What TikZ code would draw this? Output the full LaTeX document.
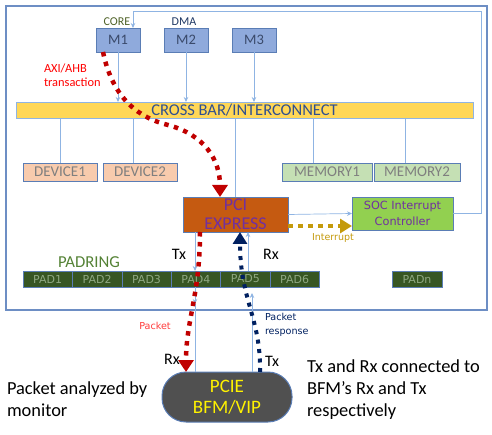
\documentclass[tikz,border=0pt]{standalone}
\usepackage{fontspec}
\setmainfont{Carlito}
\newfontfamily\dv{DejaVu Sans}
\usetikzlibrary{arrows.meta}
\definecolor{mfill}{HTML}{8FAADC}
\definecolor{mdraw}{HTML}{5A7DB5}
\definecolor{mtext}{HTML}{3A4A6B}
\definecolor{thinc}{HTML}{8FB4E3}
\definecolor{xfill}{HTML}{FFD757}
\definecolor{xtext}{HTML}{2F4F8F}
\definecolor{devfill}{HTML}{F8CBAD}
\definecolor{memfill}{HTML}{C5E0B4}
\definecolor{boxtext}{HTML}{7F7F7F}
\definecolor{pcifill}{HTML}{C55A11}
\definecolor{purp}{HTML}{7030A0}
\definecolor{socfill}{HTML}{92D050}
\definecolor{padfill}{HTML}{375623}
\definecolor{padtext}{HTML}{8FA882}
\definecolor{padring}{HTML}{548235}
\definecolor{redd}{HTML}{C00000}
\definecolor{redl}{HTML}{FF3B3B}
\definecolor{navy}{HTML}{002060}
\definecolor{goldc}{HTML}{C49A0C}
\definecolor{bfmfill}{HTML}{505050}
\definecolor{outerc}{HTML}{6D8EC4}
\definecolor{coretext}{HTML}{4F6228}
\definecolor{dmatext}{HTML}{1F3864}
\begin{document}
\begin{tikzpicture}[x=1pt,y=-1pt,
  every node/.style={inner sep=0pt, outer sep=0pt},
  mbox/.style={draw=mdraw, line width=0.8pt, fill=mfill, minimum width=44pt, minimum height=24pt, text=mtext, font=\fontsize{14.5}{14.5}\selectfont},
  devbox/.style={draw=mdraw, line width=0.8pt, fill=devfill, minimum height=18pt, text=boxtext, font=\fontsize{15}{15}\selectfont},
  membox/.style={draw=mdraw, line width=0.8pt, fill=memfill, minimum height=18pt, text=boxtext, font=\fontsize{15}{15}\selectfont},
  padbox/.style={draw=mdraw, line width=0.6pt, fill=padfill, minimum width=49.4pt, minimum height=16pt, text=padtext, font=\dv\fontsize{11}{11}\selectfont},
  thin/.style={draw=thinc, line width=0.7pt},
  thinarr/.style={thin, -{Stealth[length=5pt,width=4.5pt]}},
  reddot/.style={draw=redd, line width=4.5pt, dash pattern=on 4.5pt off 5.5pt, -{Triangle[length=12pt,width=15pt]}},
  bluedot/.style={draw=navy, line width=4pt, dash pattern=on 4pt off 5.5pt, -{Triangle[length=12pt,width=14pt]}},
  golddot/.style={draw=goldc, line width=4pt, dash pattern=on 5pt off 5pt, -{Triangle[length=12pt,width=14pt]}},
  lbl/.style={font=\fontsize{16}{16}\selectfont},
  big/.style={font=\fontsize{18.4}{22}\selectfont, align=left}
]
\useasboundingbox (0,0) rectangle (492,435);
% outer box
\draw[draw=outerc, line width=1.2pt] (6,6) rectangle (487,310);

% masters
\node[mbox] (M1) at (118,40) {M1};
\node[mbox] (M2) at (186,40) {M2};
\node[mbox] (M3) at (254,40) {M3};
\node[text=coretext, font=\fontsize{12}{12}\selectfont] (core) at (117,22) {CORE};
\node[text=dmatext, font=\fontsize{12}{12}\selectfont] (dma) at (184,22) {DMA};

% crossbar
\node[draw=thinc, line width=0.8pt, fill=xfill, minimum width=457pt, minimum height=16pt, text=xtext, font=\fontsize{16.5}{16.5}\selectfont] (xbar) at (244.5,110) {CROSS BAR/INTERCONNECT};

% devices and memories
\node[devbox, minimum width=74pt] (D1) at (60,172) {DEVICE1};
\node[devbox, minimum width=74pt] (D2) at (140,172) {DEVICE2};
\node[membox, minimum width=90pt] (MEM1) at (327,172) {MEMORY1};
\node[membox, minimum width=86pt] (MEM2) at (417,172) {MEMORY2};

% PCI express and SOC
\node[draw=mdraw, line width=0.8pt, fill=pcifill, minimum width=105pt, minimum height=35pt, text=purp, align=center, font=\fontsize{18}{19}\selectfont] (PCI) at (235.5,214.5) {PCI\\EXPRESS};
\node[draw=mdraw, line width=0.8pt, fill=socfill, minimum width=101pt, minimum height=33pt, text=purp, align=center, font=\dv\fontsize{11.3}{15.5}\selectfont] (SOC) at (402.5,213.5) {SOC Interrupt\\Controller};

% pads
\node[text=padring, font=\fontsize{16.7}{16.7}\selectfont] (padringlbl) at (89,262) {PADRING};
\node[padbox] (P1) at (47.7,279) {PAD1};
\node[padbox] (P2) at (97.1,279) {PAD2};
\node[padbox] (P3) at (146.5,279) {PAD3};
\node[padbox] (P4) at (195.9,279) {PAD4};
\node[padbox] (P5) at (245.3,279) {PAD5};
\node[padbox] (P6) at (294.7,279) {PAD6};
\node[padbox, minimum width=50pt] (Pn) at (417,279) {PADn};

% BFM
\node[draw=mdraw, line width=1pt, fill=bfmfill, minimum width=130pt, minimum height=50pt, rounded corners=24pt, text=yellow, align=center, font=\fontsize{19}{21}\selectfont] (BFM) at (227,397) {PCIE\\BFM/VIP};

% thin connectors masters -> crossbar
\draw[thinarr] (M1.south) -- (M1.south |- xbar.north);
\draw[thinarr] (M2.south) -- (M2.south |- xbar.north);
\draw[thinarr] (M3.south) -- (M3.south |- xbar.north);
% crossbar -> slaves
\draw[thin] (xbar.south -| D1.north) -- (D1.north);
\draw[thin] (xbar.south -| 133,0) -- (D2.north -| 133,0);
\draw[thin] (xbar.south -| 313,0) -- (MEM1.north -| 313,0);
\draw[thin] (xbar.south -| 405,0) -- (MEM2.north -| 405,0);
\draw[thin] (xbar.south -| PCI.north) -- (PCI.north);
% PCI -> SOC, SOC -> M1 feedback
\draw[thinarr] (PCI.east) -- (SOC.west);
\coordinate (fb1) at (481,213.5);
\coordinate (fb2) at (481,11);
\coordinate (fb3) at (133,11);
\draw[thinarr] (SOC.east) -- (fb1) -- (fb2) -- (fb3) -- (fb3 |- M1.north);
% Tx / Rx thin lines
\draw[thinarr] (PCI.south -| 195,0) -- (P4.north -| 195,0);
\coordinate (txb) at (195,304);
\draw[thinarr] (P4.south -| 195,0) -- (txb);
\draw[thin] (txb) -- (BFM.north -| 195,0);
\coordinate (rxb) at (252,293);
\draw[thinarr] (BFM.north -| 252,0) -- (rxb);
\draw[thinarr] (P5.north -| 248,0) -- (PCI.south -| 248,0);

% red AXI transaction
\draw[reddot] ([xshift=7pt]M1.south west) .. controls (113,100) and (140,118) .. (168,125)
   .. controls (205,135) and (220,160) .. ([xshift=-15.5pt]PCI.north);
% red packet
\draw[reddot] ([xshift=-35.5pt]PCI.south) .. controls (200,295) and (186,320) .. ([xshift=-41pt]BFM.north);
% blue response
\draw[bluedot] ([xshift=33pt]BFM.north) .. controls (261,318) and (240,300) .. ([xshift=4.5pt]PCI.south);
% gold interrupt
\draw[golddot] ([yshift=-11.5pt]PCI.east) -- ([yshift=-12.5pt]SOC.west);

% labels
\node[text=red, anchor=west, align=left, font=\fontsize{12.4}{13.5}\selectfont] (axi) at (44,75) {AXI/AHB\\transaction};
\node[text=goldc, font=\dv\fontsize{9.5}{9.5}\selectfont] (intl) at (333,238) {Interrupt};
\node[lbl] (txl) at (179,254) {Tx};
\node[lbl] (rxl) at (271,254) {Rx};
\node[text=redl, font=\dv\fontsize{9.6}{9.6}\selectfont] (pktl) at (155,326) {Packet};
\node[text=navy, anchor=west, align=left, font=\dv\fontsize{9.6}{14}\selectfont] (respl) at (265,325) {Packet\\response};
\node[lbl] (rx2) at (172,359) {Rx};
\node[lbl, anchor=west] (tx2) at (265,361) {Tx};
\node[big, anchor=west] (mon) at (7,399) {Packet analyzed by\\monitor};
\node[big, anchor=west] (conn) at (307,390) {Tx and Rx connected to\\BFM’s Rx and Tx\\respectively};
\end{tikzpicture}
\end{document}
